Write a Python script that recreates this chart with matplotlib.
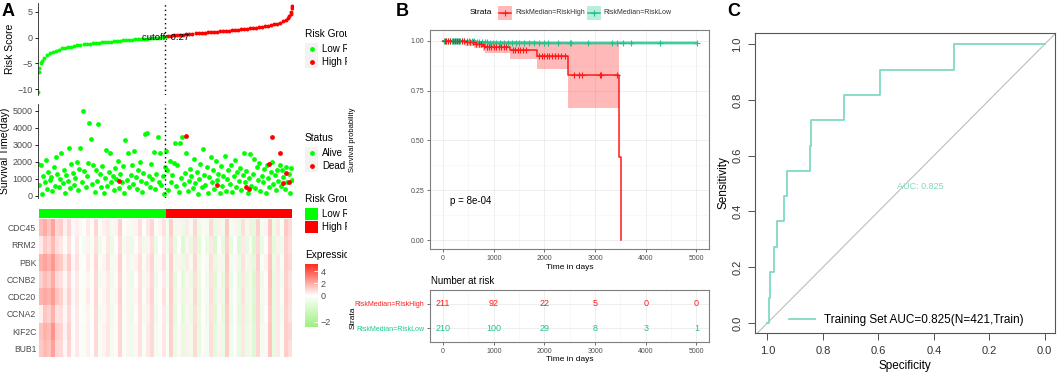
import numpy as np
import matplotlib
matplotlib.use('Agg')
import matplotlib.pyplot as plt
from matplotlib.colors import LinearSegmentedColormap, TwoSlopeNorm
from matplotlib.patches import Rectangle
from matplotlib.lines import Line2D
from matplotlib.ticker import MultipleLocator

plt.rcParams['font.family'] = ['Liberation Sans', 'DejaVu Sans']

# ---------------- data ----------------
n_patients = 421
cutoff_rank = 211
cutoff_value = 0.27

risk_rank = [1, 2, 3, 5, 8, 11] + list(range(16, 412, 5)) + [414, 416, 418, 419, 420, 421]
risk_score = [-10.6, -6.6, -5.8, -5.0, -4.5, -4.0,
              -3.4, -3.0, -2.75, -2.5, -2.3, -2.1, -1.95, -1.85, -1.72, -1.6,
              -1.5, -1.4, -1.3, -1.22, -1.15, -1.08, -1.02, -0.96, -0.9, -0.85,
              -0.8, -0.75, -0.7, -0.65, -0.6, -0.55, -0.5, -0.45, -0.4, -0.36,
              -0.32, -0.27, -0.22, -0.18, -0.13, -0.09, -0.04, 0.0, 0.08, 0.15,
              0.3, 0.38, 0.44, 0.5, 0.55, 0.6, 0.65, 0.7, 0.75, 0.8,
              0.85, 0.9, 0.95, 1.0, 1.05, 1.1, 1.15, 1.2, 1.25, 1.3,
              1.36, 1.42, 1.48, 1.54, 1.6, 1.66, 1.73, 1.8, 1.87, 1.94,
              2.02, 2.1, 2.2, 2.3, 2.42, 2.55, 2.7, 2.9, 3.15, 3.5,
              3.8, 4.2, 4.5, 5.0, 5.8, 6.2]

alive_time_low = [1900, 650, 1800, 100, 1200, 800, 2100, 400, 1400, 950,
                  1100, 300, 1700, 600, 2300, 1300, 500, 1000, 2550, 750,
                  1500, 200, 1250, 900, 2850, 450, 1900, 1350, 650, 1050,
                  2000, 350, 1600, 2850, 800, 5000, 1450, 550, 1150, 1950,
                  4280, 3330, 700, 1850, 250, 1550, 900, 4250, 1300, 500,
                  1750, 150, 1050, 2700, 600, 1400, 2500, 850, 1200, 350,
                  1650, 1000, 2050, 450, 1300, 800, 1750, 150, 3300, 950,
                  2500, 550, 1250, 1850, 700, 2650, 1100, 400, 1500, 2000,
                  900, 250, 1350, 3650, 750, 3700, 1150, 550, 1900, 1000,
                  2600, 400, 1300, 3450, 850, 2550, 650, 1200, 100, 1700]
alive_time_high = [2650, 1500, 350, 2050, 800, 1250, 1950, 3100, 600, 1800,
                   250, 3100, 1050, 3450, 700, 1350, 2550, 300, 900, 1600,
                   1150, 450, 2200, 750, 1400, 100, 1000, 1900, 550, 2750,
                   1250, 650, 1700, 200, 1100, 2300, 850, 1500, 400, 2050,
                   950, 1300, 150, 1750, 600, 1200, 2350, 300, 1000, 1550,
                   700, 1850, 250, 1150, 2100, 500, 1400, 900, 1650, 350,
                   1250, 2500, 800, 1450, 200, 1050, 2450, 600, 1300, 2150,
                   450, 1700, 950, 1950, 300, 1200, 800, 1600, 150, 1850,
                   1050, 500, 1400, 2000, 700, 1250, 350, 1550, 900, 1800,
                   600, 1500, 1100, 400, 1700, 850, 1300, 150, 1650, 950]
dead_rank = [134, 246, 297, 345, 349, 382, 388, 400, 406, 411, 415]
dead_time = [900, 3530, 650, 550, 400, 1870, 3490, 2500, 750, 1330, 850]

genes = ['CDC45', 'RRM2', 'PBK', 'CCNB2', 'CDC20', 'CCNA2', 'KIF2C', 'BUB1']
expr_CDC45 = [1.6,2.0,1.5,2.2,1.0,1.2,0.4,1.0,0.2,0.4,0.2,-0.1,0.5,0.1,1.0,-0.2,0.4,0.5,-0.3,0.3,1.1,-0.1,0.2,-0.3,0.3,0.8,-0.1,0.6,1.0,-0.2,0.3,0.7,
              -0.3,1.2,-0.4,0.3,-0.5,0.5,-0.3,1.0,-0.5,0.2,-0.3,0.9,-0.6,0.4,-0.4,1.3,-0.3,0.3,-0.5,0.8,-0.4,0.5,-0.7,1.1,-0.3,0.3,1.4,-0.5,0.6,-0.2,1.3,0.9]
expr_RRM2 = [0.5,1.3,1.0,1.7,0.8,0.6,0.1,0.7,0.0,0.6,-0.1,-0.3,0.3,-0.2,0.8,-0.4,0.1,0.6,-0.5,0.0,0.9,-0.3,0.4,-0.5,0.1,0.6,-0.4,0.3,0.8,-0.5,0.0,0.5,
             -0.4,1.0,-0.6,0.1,-0.8,0.3,-0.6,0.8,-0.7,-0.1,-0.5,0.6,-0.9,0.1,-0.6,1.1,-0.6,0.0,-0.8,0.5,-0.6,0.2,-0.9,0.9,-0.5,0.1,1.2,-0.7,0.4,-0.4,1.1,0.8]
expr_PBK = [1.9,2.2,1.9,2.5,1.5,1.3,0.5,1.3,0.2,0.7,0.1,-0.1,0.5,0.1,1.0,-0.2,0.3,0.7,-0.3,0.2,1.1,-0.1,0.4,-0.3,0.3,0.8,-0.2,0.5,1.0,-0.3,0.2,0.7,
            -0.2,1.2,-0.4,0.3,-0.5,0.5,-0.3,1.0,-0.5,0.1,-0.3,0.8,-0.6,0.3,-0.4,1.3,-0.3,0.2,-0.5,0.7,-0.4,0.4,-0.7,1.1,-0.2,0.3,1.4,-0.5,0.6,-0.2,1.2,0.9]
expr_CCNB2 = [1.1,1.6,1.3,2.0,0.9,0.7,0.2,0.9,0.1,0.5,0.0,-0.2,0.3,-0.1,0.9,-0.3,0.2,0.5,-0.4,0.1,1.0,-0.2,0.3,-0.5,0.1,0.7,-0.3,0.4,0.9,-0.4,0.1,0.5,
              -0.3,1.1,-0.6,0.1,-0.7,0.3,-0.5,0.8,-0.6,0.0,-0.4,0.7,-0.8,0.2,-0.6,1.2,-0.5,0.1,-0.7,0.6,-0.6,0.3,-0.9,1.0,-0.4,0.1,1.5,-0.6,0.5,-0.3,1.1,0.7]
expr_CDC20 = [1.8,2.1,1.9,2.4,1.4,1.1,0.3,1.1,0.2,0.6,0.1,-0.2,0.5,0.1,1.0,-0.2,0.3,0.6,-0.3,0.2,1.1,-0.2,0.3,-0.4,0.2,0.8,-0.2,0.5,1.0,-0.3,0.1,0.7,
              -0.2,1.2,-0.5,0.2,-0.6,0.4,-0.4,1.0,-0.6,0.1,-0.3,0.8,-0.7,0.3,-0.5,1.3,-0.4,0.1,-0.6,0.7,-0.5,0.3,-0.8,1.0,-0.3,0.2,1.4,-0.6,0.5,-0.2,1.2,0.8]
expr_CCNA2 = [0.4,1.4,1.1,1.9,0.7,0.8,0.2,0.9,0.1,0.5,0.0,-0.2,0.3,-0.1,0.9,-0.3,0.2,0.5,-0.4,0.1,1.0,-0.2,0.3,-0.5,0.1,0.7,-0.3,0.4,0.9,-0.4,0.1,0.5,
              -0.3,1.1,-0.6,0.1,-0.7,0.3,-0.5,0.8,-0.6,0.0,-0.4,0.7,-0.8,0.2,-0.6,1.2,-0.5,0.1,-0.7,0.6,-0.6,0.3,-0.9,1.0,-0.4,0.1,1.3,-0.6,0.5,-0.3,1.1,0.7]
expr_KIF2C = [1.5,1.9,1.7,2.6,1.2,1.0,0.3,1.1,0.1,0.5,0.1,-0.2,0.4,0.0,0.9,-0.2,0.3,0.6,-0.3,0.1,1.0,-0.2,0.3,-0.4,0.2,0.7,-0.2,0.5,0.9,-0.3,0.1,0.6,
              -0.2,1.1,-0.5,0.2,-0.6,0.4,-0.4,0.9,-0.6,0.1,-0.3,0.8,-0.7,0.3,-0.5,1.2,-0.4,0.1,-0.6,0.6,-0.5,0.3,-0.8,1.0,-0.3,0.2,1.4,-0.6,0.5,-0.2,1.2,1.0]
expr_BUB1 = [1.3,1.7,1.5,2.3,1.0,0.9,0.2,1.0,0.1,0.5,0.1,-0.2,0.4,0.0,0.9,-0.2,0.3,0.6,-0.3,0.1,1.0,-0.2,0.3,-0.4,0.2,0.7,-0.2,0.5,0.9,-0.3,0.1,0.6,
             -0.2,1.1,-0.5,0.2,-0.6,0.4,-0.4,0.9,-0.6,0.1,-0.3,0.8,-0.7,0.3,-0.5,1.2,-0.4,0.1,-0.6,0.6,-0.5,0.3,-0.8,1.0,-0.3,0.2,1.4,-0.6,0.5,-0.2,1.2,0.8]

# Kaplan-Meier
km_high_time = [0, 430, 600, 790, 830, 1320, 1860, 2475, 3465, 3510]
km_high_surv = [1.0, 0.992, 0.985, 0.975, 0.968, 0.955, 0.925, 0.83, 0.415, 0.0]
km_high_ci_time = [0, 430, 600, 790, 830, 1320, 1860, 2475, 3465]
km_high_lower = [1.0, 0.976, 0.965, 0.95, 0.94, 0.91, 0.86, 0.665, 0.665]
km_high_upper = [1.0, 1.0, 1.0, 1.0, 1.0, 1.0, 0.995, 0.99, 0.99]
km_high_censor = [30, 60, 100, 140, 190, 230, 270, 320, 370, 410, 480, 530, 580, 640, 700,
                  740, 800, 860, 900, 950, 1000, 1050, 1100, 1150, 1200, 1250, 1380, 1420,
                  1470, 1520, 1580, 1640, 1900, 1950, 2000, 2050, 2100, 2150, 2200, 2260,
                  2330, 2400, 2590, 2680, 2740, 3100, 3120, 3440]
km_low_time = [0, 150, 650, 880, 5016]
km_low_surv = [1.0, 0.997, 0.994, 0.99, 0.99]
km_low_lower = [1.0, 0.99, 0.985, 0.979, 0.979]
km_low_upper = [1.0, 1.0, 1.0, 1.0, 1.0]
km_low_censor = [20, 50, 90, 130, 170, 210, 250, 300, 340, 380, 420, 470, 520, 560, 610, 660,
                 700, 760, 820, 870, 920, 980, 1050, 1120, 1200, 1280, 1350, 1430, 1500, 1600,
                 1700, 1800, 1900, 2000, 2080, 2270, 2500, 2530, 2870, 3330, 3430, 3560, 3710,
                 4290, 5016]
risk_times = [0, 1000, 2000, 3000, 4000, 5000]
risk_high = [211, 92, 22, 5, 0, 0]
risk_low = [210, 100, 29, 8, 3, 1]
p_value_text = 'p = 8e-04'

# ROC
roc_specificity = [1.0, 0.995, 0.990, 0.978, 0.967, 0.940, 0.928, 0.847, 0.842, 0.725, 0.594, 0.328, 0.0]
roc_sensitivity = [0.0, 0.091, 0.182, 0.273, 0.364, 0.455, 0.545, 0.636, 0.727, 0.818, 0.909, 1.0, 1.0]
auc_value = 0.825

# ---------------- style ----------------
GREEN = '#00FF00'
RED = '#FF0000'
KM_RED = '#FF1A1A'
KM_GREEN = '#1FC38F'
ROC_COL = '#7FDAC4'
TICKGREY = '#4D4D4D'

W, H = 1059, 374
fig = plt.figure(figsize=(W / 100, H / 100), dpi=100)


def rect(x0, y0, x1, y1):
    return [x0 / W, 1 - y1 / H, (x1 - x0) / W, (y1 - y0) / H]


def fx(x):
    return x / W


def fy(y):
    return 1 - y / H


def classic(ax):
    for s in ['top', 'right', 'bottom']:
        ax.spines[s].set_visible(False)
    ax.spines['left'].set_color('#222222')
    ax.spines['left'].set_linewidth(0.6)
    ax.tick_params(axis='y', labelsize=6.5, labelcolor=TICKGREY, length=2, width=0.6, pad=1.5)
    ax.set_xticks([])


# ---------------- Panel A ----------------
rr = np.array(risk_rank)
rs = np.array(risk_score)
axR = fig.add_axes(rect(37.5, 3, 293, 95))
lowm = rr <= cutoff_rank
axR.scatter(rr[lowm], rs[lowm], s=8, c=GREEN, lw=0)
axR.scatter(rr[~lowm], rs[~lowm], s=8, c=RED, lw=0)
axR.axvline(cutoff_rank, color='black', ls=(0, (1, 2.2)), lw=1.0)
axR.set_xlim(0, n_patients + 1)
axR.set_ylim(-11.1, 6.7)
axR.set_yticks([-10, -5, 0, 5])
axR.set_yticklabels(['\u221210', '\u22125', '0', '5'])
axR.set_ylabel('Risk Score', fontsize=7.5, labelpad=2)
axR.text(cutoff_rank, 0.1, 'cutoff: %.2f' % cutoff_value, fontsize=6.8, ha='center', va='center')
classic(axR)

axS = fig.add_axes(rect(37.5, 104, 293, 198))
x_low = np.linspace(1, cutoff_rank, len(alive_time_low))
x_high = np.linspace(cutoff_rank + 1, n_patients, len(alive_time_high))
axS.scatter(np.concatenate([x_low, x_high]), alive_time_low + alive_time_high, s=12, c=GREEN, lw=0)
axS.scatter(dead_rank, dead_time, s=12, c=RED, lw=0)
axS.axvline(cutoff_rank, color='black', ls=(0, (1, 2.2)), lw=1.0)
axS.set_xlim(0, n_patients + 1)
axS.set_ylim(-120, 5410)
axS.set_yticks([0, 1000, 2000, 3000, 4000, 5000])
axS.set_ylabel('Survival Time(day)', fontsize=7.5, labelpad=2)
classic(axS)

axBar = fig.add_axes(rect(39, 209, 292, 218))
axBar.barh(0, cutoff_rank, left=0, height=1, color=GREEN, lw=0)
axBar.barh(0, n_patients - cutoff_rank, left=cutoff_rank, height=1, color=RED, lw=0)
axBar.set_xlim(0, n_patients)
axBar.set_ylim(-0.5, 0.5)
axBar.axis('off')

expr = np.array([expr_CDC45, expr_RRM2, expr_PBK, expr_CCNB2, expr_CDC20, expr_CCNA2, expr_KIF2C, expr_BUB1])
cmap = LinearSegmentedColormap.from_list('expr', [(0, '#9CF07F'), (0.5, '#FFFFFF'), (1, '#FF2A1A')])
norm = TwoSlopeNorm(vcenter=0, vmin=-2.4, vmax=5.2)
axH = fig.add_axes(rect(39, 219, 292, 357))
mesh = axH.pcolormesh(expr, cmap=cmap, norm=norm)
axH.set_ylim(len(genes), 0)
axH.set_yticks(np.arange(len(genes)) + 0.5)
axH.set_yticklabels(genes, fontsize=6.2, color=TICKGREY)
axH.tick_params(length=0, pad=2)
axH.set_xticks([])
for s in axH.spines.values():
    s.set_visible(False)

fig.text(fx(2), fy(12), 'A', fontsize=13, fontweight='bold', va='center')

# legends of A (clipped by panel B cover)
LZ = 1
fig.text(fx(305), fy(34), 'Risk Group', fontsize=7.3, va='center', zorder=LZ)
fig.add_artist(Rectangle((fx(305), fy(68)), 13 / W, 25 / H, transform=fig.transFigure,
                         facecolor='#F2F2F2', edgecolor='none', zorder=LZ))
fig.add_artist(Line2D([fx(311.5)], [fy(49)], marker='o', ms=3.5, color=GREEN, ls='', mew=0, zorder=LZ))
fig.add_artist(Line2D([fx(311.5)], [fy(62)], marker='o', ms=3.5, color=RED, ls='', mew=0, zorder=LZ))
fig.text(fx(322), fy(49), 'Low Risk', fontsize=7, va='center', zorder=LZ)
fig.text(fx(322), fy(62), 'High Risk', fontsize=7, va='center', zorder=LZ)

fig.text(fx(305), fy(138), 'Status', fontsize=7.3, va='center', zorder=LZ)
fig.add_artist(Rectangle((fx(305), fy(172)), 13 / W, 25 / H, transform=fig.transFigure,
                         facecolor='#F2F2F2', edgecolor='none', zorder=LZ))
fig.add_artist(Line2D([fx(311.5)], [fy(153)], marker='o', ms=3.5, color=GREEN, ls='', mew=0, zorder=LZ))
fig.add_artist(Line2D([fx(311.5)], [fy(166)], marker='o', ms=3.5, color=RED, ls='', mew=0, zorder=LZ))
fig.text(fx(322), fy(153), 'Alive', fontsize=7, va='center', zorder=LZ)
fig.text(fx(322), fy(166), 'Dead', fontsize=7, va='center', zorder=LZ)

fig.text(fx(305), fy(199), 'Risk Group', fontsize=7.3, va='center', zorder=LZ)
fig.add_artist(Rectangle((fx(305), fy(220)), 13 / W, 12 / H, transform=fig.transFigure,
                         facecolor=GREEN, edgecolor='none', zorder=LZ))
fig.add_artist(Rectangle((fx(305), fy(233)), 13 / W, 12 / H, transform=fig.transFigure,
                         facecolor=RED, edgecolor='none', zorder=LZ))
fig.text(fx(322), fy(214), 'Low Risk', fontsize=7, va='center', zorder=LZ)
fig.text(fx(322), fy(227), 'High Risk', fontsize=7, va='center', zorder=LZ)

fig.text(fx(305), fy(255), 'Expression', fontsize=7.3, va='center', zorder=LZ)
cax = fig.add_axes(rect(305, 264, 318, 327))
cb = fig.colorbar(mesh, cax=cax, ticks=[-2, 0, 2, 4])
cb.outline.set_visible(False)
cb.ax.set_yticklabels(['\u22122', '0', '2', '4'])
cb.ax.tick_params(labelsize=6.5, labelcolor=TICKGREY, color='white', length=3, width=0.6, direction='in', pad=2)

# white cover (panel B background)
fig.add_artist(Rectangle((fx(347), 0), (720 - 347) / W, 1, transform=fig.transFigure,
                         facecolor='white', edgecolor='none', zorder=2))

# ---------------- Panel B ----------------
BZ = 5
axK = fig.add_axes(rect(430, 30, 709, 249))
axK.set_zorder(BZ)
axK.fill_between(km_high_ci_time, km_high_lower, km_high_upper, step='post', color=KM_RED, alpha=0.3, lw=0)
axK.fill_between(km_low_time, km_low_lower, km_low_upper, step='post', color=KM_GREEN, alpha=0.3, lw=0)
axK.step(km_low_time, km_low_surv, where='post', color=KM_GREEN, lw=1.1)
axK.step(km_high_time, km_high_surv, where='post', color=KM_RED, lw=1.1)
ht = np.array(km_high_time)
hs = np.array(km_high_surv)
lt = np.array(km_low_time)
ls_ = np.array(km_low_surv)
hc_y = hs[np.searchsorted(ht, km_high_censor, side='right') - 1]
lc_y = ls_[np.searchsorted(lt, km_low_censor, side='right') - 1]
axK.plot(km_low_censor, lc_y, ls='', marker='+', ms=4, mew=0.8, color=KM_GREEN)
axK.plot(km_high_censor, hc_y, ls='', marker='+', ms=4, mew=0.8, color=KM_RED)
axK.set_xlim(-260, 5250)
axK.set_ylim(-0.045, 1.054)
axK.set_xticks(risk_times)
axK.set_yticks([0, 0.25, 0.5, 0.75, 1.0])
axK.set_yticklabels(['0.00', '0.25', '0.50', '0.75', '1.00'])
axK.xaxis.set_minor_locator(MultipleLocator(500))
axK.yaxis.set_minor_locator(MultipleLocator(0.125))
axK.grid(True, which='major', color='#EBEBEB', lw=0.6)
axK.grid(True, which='minor', color='#F4F4F4', lw=0.4)
axK.set_axisbelow(True)
axK.tick_params(which='major', labelsize=5, labelcolor=TICKGREY, color='#333333', length=2, width=0.5, pad=2)
axK.tick_params(which='minor', length=0)
for s in axK.spines.values():
    s.set_color('#7F7F7F')
    s.set_linewidth(0.8)
axK.set_xlabel('Time in days', fontsize=6, labelpad=1.5)
axK.text(0.07, 0.22, p_value_text, transform=axK.transAxes, fontsize=7, va='center')

fig.text(fx(353), fy(140), 'Survival probability', rotation=90, fontsize=5.5, ha='center', va='center', zorder=BZ)

# legend at top
fig.text(fx(470), fy(13), 'Strata', fontsize=6, va='center', zorder=BZ)
fig.add_artist(Rectangle((fx(498), fy(19.5)), 14 / W, 13 / H, transform=fig.transFigure,
                         facecolor=KM_RED, alpha=0.3, edgecolor='none', zorder=BZ))
fig.add_artist(Line2D([fx(499), fx(511)], [fy(13), fy(13)], color=KM_RED, lw=1.1, zorder=BZ))
fig.add_artist(Line2D([fx(505)], [fy(13)], marker='+', ms=4, mew=0.8, color=KM_RED, zorder=BZ))
fig.text(fx(515), fy(13), 'RiskMedian=RiskHigh', fontsize=5, va='center', color='#333333', zorder=BZ)
fig.add_artist(Rectangle((fx(587), fy(19.5)), 14 / W, 13 / H, transform=fig.transFigure,
                         facecolor=KM_GREEN, alpha=0.3, edgecolor='none', zorder=BZ))
fig.add_artist(Line2D([fx(588), fx(600)], [fy(13), fy(13)], color=KM_GREEN, lw=1.1, zorder=BZ))
fig.add_artist(Line2D([fx(594)], [fy(13)], marker='+', ms=4, mew=0.8, color=KM_GREEN, zorder=BZ))
fig.text(fx(603), fy(13), 'RiskMedian=RiskLow', fontsize=5, va='center', color='#333333', zorder=BZ)

fig.text(fx(396), fy(12), 'B', fontsize=13, fontweight='bold', va='center', zorder=BZ)

# risk table
axT = fig.add_axes(rect(430, 290, 709, 342))
axT.set_zorder(BZ)
axT.set_xlim(-260, 5250)
axT.set_ylim(-0.583, 1.583)
for t, v in zip(risk_times, risk_high):
    axT.text(t, 1, str(v), color=KM_RED, fontsize=6.5, ha='center', va='center')
for t, v in zip(risk_times, risk_low):
    axT.text(t, 0, str(v), color=KM_GREEN, fontsize=6.5, ha='center', va='center')
axT.set_xticks(risk_times)
axT.set_yticks([1, 0])
axT.set_yticklabels(['RiskMedian=RiskHigh', 'RiskMedian=RiskLow'])
for lab, col in zip(axT.get_yticklabels(), [KM_RED, KM_GREEN]):
    lab.set_color(col)
axT.xaxis.set_minor_locator(MultipleLocator(500))
axT.grid(True, which='major', color='#EBEBEB', lw=0.6)
axT.grid(True, which='minor', axis='x', color='#F4F4F4', lw=0.4)
axT.set_axisbelow(True)
axT.tick_params(axis='x', labelsize=5, labelcolor=TICKGREY, color='#333333', length=2, width=0.5, pad=2)
axT.tick_params(axis='y', labelsize=5, color='#333333', length=2, width=0.5, pad=2)
axT.tick_params(which='minor', length=0)
for s in axT.spines.values():
    s.set_color('#7F7F7F')
    s.set_linewidth(0.8)
axT.set_xlabel('Time in days', fontsize=6, labelpad=1)
fig.text(fx(431), fy(281), 'Number at risk', fontsize=7, va='center', zorder=BZ)
fig.text(fx(353), fy(318), 'Strata', rotation=90, fontsize=6, ha='center', va='center', zorder=BZ)

# ---------------- Panel C ----------------
axC = fig.add_axes(rect(755, 33, 1055, 333))
axC.set_zorder(BZ)
axC.axline((1, 0), (0, 1), color='#BDBDBD', lw=0.8)
axC.step(roc_specificity, roc_sensitivity, where='post', color=ROC_COL, lw=1.3,
         label='Training Set AUC=%.3f(N=%d,Train)' % (auc_value, n_patients))
axC.set_xlim(1.045, -0.037)
axC.set_ylim(-0.036, 1.04)
ticks = [1.0, 0.8, 0.6, 0.4, 0.2, 0.0]
axC.set_xticks(ticks)
axC.set_xticklabels(['%.1f' % t for t in ticks])
axC.set_yticks(ticks)
axC.set_yticklabels(['%.1f' % t for t in ticks], rotation=90, va='center')
axC.tick_params(labelsize=8, color='#333333', labelcolor='#333333', length=5, width=0.6, pad=4)
for s in axC.spines.values():
    s.set_color('#555555')
    s.set_linewidth(0.8)
axC.set_xlabel('Specificity', fontsize=8.5, labelpad=3)
axC.set_ylabel('Sensitivity', fontsize=8.5, labelpad=2)
axC.text(0.45, 0.49, 'AUC: %.3f' % auc_value, color=ROC_COL, fontsize=6.5, ha='center', va='center')
axC.legend(loc='lower left', bbox_to_anchor=(0.105, 0.015), frameon=False, fontsize=8.5,
           handlelength=2.2, handletextpad=0.8, borderpad=0.2, borderaxespad=0)
fig.text(fx(727), fy(12), 'C', fontsize=13, fontweight='bold', va='center', zorder=BZ)

fig.savefig('out.png', dpi=100)
